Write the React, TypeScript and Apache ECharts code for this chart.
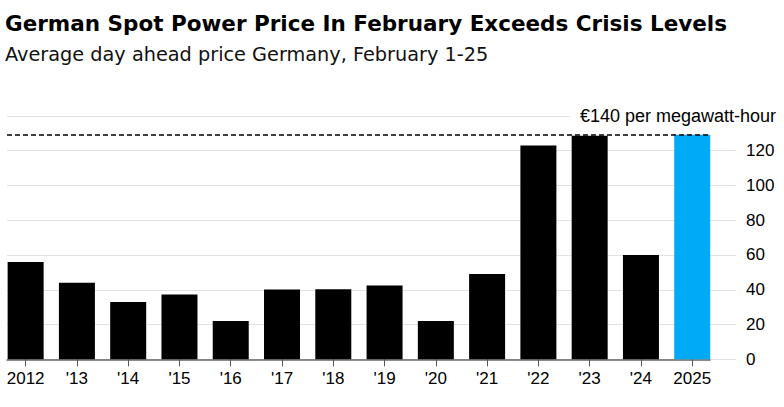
import React, { useEffect, useRef } from "react";
import * as echarts from "echarts";

const categories = ["2012", "'13", "'14", "'15", "'16", "'17", "'18", "'19", "'20", "'21", "'22", "'23", "'24", "2025"];
const prices = [56, 44, 33, 37.3, 22, 40.2, 40.3, 42.5, 22, 49, 123, 128.6, 60, 129.2];
const highlightCategory = "2025";
const yTicks = [0, 20, 40, 60, 80, 100, 120, 140];
const topLabel = "€140 per megawatt-hour";

const FONT = "'Liberation Sans', Arial, sans-serif";
const TITLE_FONT = "'DejaVu Sans', 'Liberation Sans', sans-serif";

export default function App() {
  const ref = useRef<HTMLDivElement>(null);
  useEffect(() => {
    if (!ref.current) return;
    const chart = echarts.init(ref.current, undefined, { renderer: "svg" });
    const yMin = yTicks[0];
    const yMax = yTicks[yTicks.length - 1];
    const yInterval = yTicks[1] - yTicks[0];
    const maxVal = Math.max(...prices);
    const top = 115.9;
    const bottom = 47.7;
    chart.setOption({
      animation: false,
      textStyle: { fontFamily: FONT },
      title: [
        {
          text: "German Spot Power Price In February Exceeds Crisis Levels",
          left: 0,
          top: 7,
          textStyle: { fontSize: 21.5, fontWeight: "bold", color: "#000", fontFamily: TITLE_FONT },
        },
        {
          text: "Average day ahead price Germany, February 1-25",
          left: 0,
          top: 40,
          textStyle: { fontSize: 19.3, fontWeight: "normal", color: "#111", fontFamily: TITLE_FONT },
        },
      ],
      grid: [
        { left: -0.45, width: 718.3, top, bottom, containLabel: false },
        { left: 7, right: 48, top, bottom, containLabel: false },
        { left: 7, right: 74, top, bottom, containLabel: false },
      ],
      xAxis: [
        {
          type: "category",
          gridIndex: 0,
          data: categories,
          axisLine: { show: false },
          axisTick: { show: true, alignWithLabel: true, length: 7, lineStyle: { color: "#555", width: 1 } },
          axisLabel: { color: "#000", fontSize: 17, margin: 11, fontFamily: FONT },
          splitLine: { show: false },
        },
        { type: "value", gridIndex: 1, show: false, min: 0, max: 1 },
        {
          type: "value",
          gridIndex: 2,
          min: 0,
          max: 1,
          axisLine: { show: true, onZero: false, lineStyle: { color: "#666", width: 1.5 } },
          axisTick: { show: false },
          axisLabel: { show: false },
          splitLine: { show: false },
        },
      ],
      yAxis: [
        { type: "value", gridIndex: 0, min: yMin, max: yMax, interval: yInterval, show: false },
        {
          type: "value",
          gridIndex: 1,
          position: "right",
          min: yMin,
          max: yMax,
          interval: yInterval,
          axisLine: { show: false },
          axisTick: { show: false },
          splitLine: { show: true, lineStyle: { color: "#e2e2e2", width: 1.2 } },
          axisLabel: {
            align: "right",
            margin: 40,
            color: "#000",
            fontSize: 17,
            fontFamily: FONT,
            formatter: (v: number) => (v === yMax ? `{t|${topLabel}}` : `{n|${v}}`),
            rich: {
              n: { width: 30, align: "left", fontSize: 17, color: "#000", fontFamily: FONT },
              t: {
                fontSize: 18,
                color: "#000",
                fontFamily: FONT,
                backgroundColor: "#fff",
                padding: [2, 0, 2, 10],
              },
            },
          },
        },
        { type: "value", gridIndex: 2, min: yMin, max: yMax, interval: yInterval, show: false },
      ],
      series: [
        {
          type: "bar",
          xAxisIndex: 0,
          yAxisIndex: 0,
          barWidth: 36,
          data: prices.map((v, i) => ({
            value: v,
            itemStyle: { color: categories[i] === highlightCategory ? "#00aaf5" : "#000" },
          })),
          z: 3,
        },
        {
          type: "line",
          xAxisIndex: 2,
          yAxisIndex: 2,
          data: [],
          silent: true,
          z: 5,
          markLine: {
            silent: true,
            symbol: ["none", "none"],
            label: { show: false },
            lineStyle: { color: "#000", type: [5, 3], width: 1.6 },
            data: [{ yAxis: maxVal }],
          },
        },
      ],
    });
    return () => chart.dispose();
  }, []);
  return <div ref={ref} style={{ width: 784, height: 407, position: "absolute", left: 0, top: 0 }} />;
}
